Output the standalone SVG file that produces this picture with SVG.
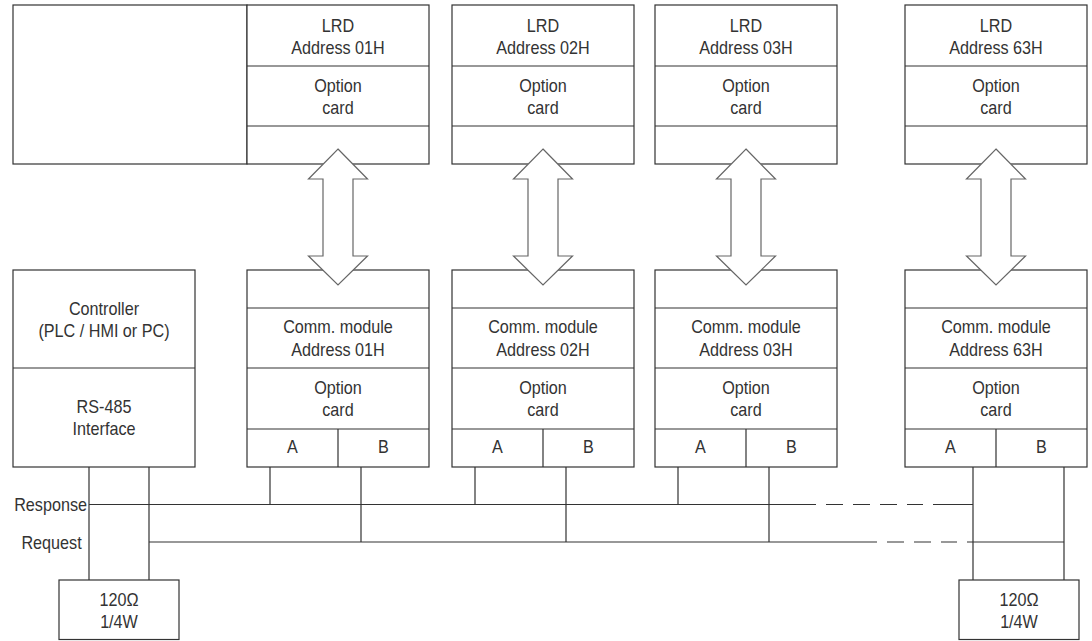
<svg xmlns="http://www.w3.org/2000/svg" width="1092" height="641" viewBox="0 0 1092 641">
<style>
.box{fill:#fff;stroke:#333;stroke-width:1.2}
.ln{stroke:#333;stroke-width:1.2;fill:none}
.arrow{fill:#fff;stroke:#666;stroke-width:1.2}
.dash{stroke-dasharray:17 10}
text{font-family:"Liberation Sans",Arial,Helvetica,sans-serif;font-size:18.6px;fill:#333;text-anchor:middle}
.end{text-anchor:end}
</style>
<rect width="1092" height="641" fill="#fff"/>
<g id="drive-body"><rect class="box" x="13" y="5" width="234" height="159"/></g>
<g id="lrd-01"><rect class="box" x="247" y="5" width="182" height="159"/><path class="ln" d="M247 66H429M247 126H429"/><text transform="translate(338 32) scale(0.87 1)">LRD</text><text transform="translate(338 54) scale(0.87 1)">Address 01H</text><text transform="translate(338 92) scale(0.87 1)">Option</text><text transform="translate(338 113.5) scale(0.87 1)">card</text></g>
<g id="lrd-02"><rect class="box" x="452" y="5" width="182" height="159"/><path class="ln" d="M452 66H634M452 126H634"/><text transform="translate(543 32) scale(0.87 1)">LRD</text><text transform="translate(543 54) scale(0.87 1)">Address 02H</text><text transform="translate(543 92) scale(0.87 1)">Option</text><text transform="translate(543 113.5) scale(0.87 1)">card</text></g>
<g id="lrd-03"><rect class="box" x="655" y="5" width="182" height="159"/><path class="ln" d="M655 66H837M655 126H837"/><text transform="translate(746 32) scale(0.87 1)">LRD</text><text transform="translate(746 54) scale(0.87 1)">Address 03H</text><text transform="translate(746 92) scale(0.87 1)">Option</text><text transform="translate(746 113.5) scale(0.87 1)">card</text></g>
<g id="lrd-63"><rect class="box" x="905" y="5" width="182" height="159"/><path class="ln" d="M905 66H1087M905 126H1087"/><text transform="translate(996 32) scale(0.87 1)">LRD</text><text transform="translate(996 54) scale(0.87 1)">Address 63H</text><text transform="translate(996 92) scale(0.87 1)">Option</text><text transform="translate(996 113.5) scale(0.87 1)">card</text></g>
<g id="controller"><rect class="box" x="13" y="270" width="182" height="197"/><path class="ln" d="M13 368H195"/><text transform="translate(104 315) scale(0.87 1)">Controller</text><text transform="translate(104 336.5) scale(0.87 1)">(PLC / HMI or PC)</text><text transform="translate(104 412.5) scale(0.87 1)">RS-485</text><text transform="translate(104 435) scale(0.87 1)">Interface</text></g>
<g id="comm-01"><rect class="box" x="247" y="270" width="182" height="197"/><path class="ln" d="M247 308H429M247 368H429M247 429H429M338 429V467"/><text transform="translate(338 333) scale(0.87 1)">Comm. module</text><text transform="translate(338 355.5) scale(0.87 1)">Address 01H</text><text transform="translate(338 393.5) scale(0.87 1)">Option</text><text transform="translate(338 416) scale(0.87 1)">card</text><text transform="translate(292.5 453) scale(0.87 1)">A</text><text transform="translate(383.5 453) scale(0.87 1)">B</text></g>
<g id="comm-02"><rect class="box" x="452" y="270" width="182" height="197"/><path class="ln" d="M452 308H634M452 368H634M452 429H634M543 429V467"/><text transform="translate(543 333) scale(0.87 1)">Comm. module</text><text transform="translate(543 355.5) scale(0.87 1)">Address 02H</text><text transform="translate(543 393.5) scale(0.87 1)">Option</text><text transform="translate(543 416) scale(0.87 1)">card</text><text transform="translate(497.5 453) scale(0.87 1)">A</text><text transform="translate(588.5 453) scale(0.87 1)">B</text></g>
<g id="comm-03"><rect class="box" x="655" y="270" width="182" height="197"/><path class="ln" d="M655 308H837M655 368H837M655 429H837M746 429V467"/><text transform="translate(746 333) scale(0.87 1)">Comm. module</text><text transform="translate(746 355.5) scale(0.87 1)">Address 03H</text><text transform="translate(746 393.5) scale(0.87 1)">Option</text><text transform="translate(746 416) scale(0.87 1)">card</text><text transform="translate(700.5 453) scale(0.87 1)">A</text><text transform="translate(791.5 453) scale(0.87 1)">B</text></g>
<g id="comm-63"><rect class="box" x="905" y="270" width="182" height="197"/><path class="ln" d="M905 308H1087M905 368H1087M905 429H1087M996 429V467"/><text transform="translate(996 333) scale(0.87 1)">Comm. module</text><text transform="translate(996 355.5) scale(0.87 1)">Address 63H</text><text transform="translate(996 393.5) scale(0.87 1)">Option</text><text transform="translate(996 416) scale(0.87 1)">card</text><text transform="translate(950.5 453) scale(0.87 1)">A</text><text transform="translate(1041.5 453) scale(0.87 1)">B</text></g>
<g id="resistor-left"><rect class="box" x="59" y="580" width="120" height="59.5"/><text transform="translate(119 606) scale(0.87 1)">120Ω</text><text transform="translate(119 627.5) scale(0.87 1)">1/4W</text></g>
<g id="resistor-right"><rect class="box" x="959" y="580" width="120" height="59.5"/><text transform="translate(1019 606) scale(0.87 1)">120Ω</text><text transform="translate(1019 627.5) scale(0.87 1)">1/4W</text></g>
<g id="connectors">
<polygon class="arrow" points="338,149 367.5,179 353,179 353,256 367.5,256 338,285 308.5,256 323,256 323,179 308.5,179"/>
<polygon class="arrow" points="543,149 572.5,179 558,179 558,256 572.5,256 543,285 513.5,256 528,256 528,179 513.5,179"/>
<polygon class="arrow" points="746,149 775.5,179 761,179 761,256 775.5,256 746,285 716.5,256 731,256 731,179 716.5,179"/>
<polygon class="arrow" points="996,149 1025.5,179 1011,179 1011,256 1025.5,256 996,285 966.5,256 981,256 981,179 966.5,179"/>
<path class="ln" d="M89 467V580M149 467V580"/>
<path class="ln" d="M89 504.5H816M933 504.5H973"/>
<path class="ln dash" d="M826 504.5H923"/>
<path class="ln" d="M149 542H877M967 542H1064"/>
<path class="ln dash" d="M887 542H957"/>
<path class="ln" d="M270 467V504.5M361 467V542M475 467V504.5M566 467V542M678 467V504.5M769 467V542"/>
<path class="ln" d="M973 467V580M1064 467V580"/>
<text class="end" transform="translate(87 511) scale(0.87 1)">Response</text>
<text transform="translate(51.5 548.5) scale(0.87 1)">Request</text>
</g>
</svg>
